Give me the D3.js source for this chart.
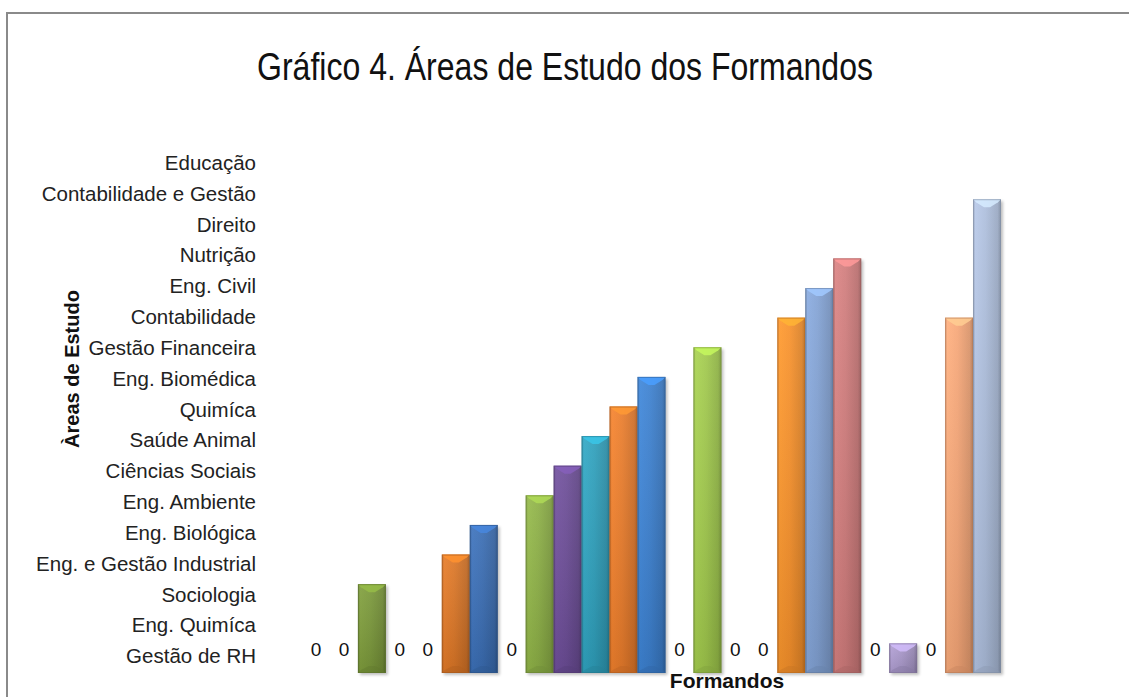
<!DOCTYPE html>
<html lang="pt">
<head>
<meta charset="utf-8">
<script src="https://cdn.jsdelivr.net/npm/d3@7/dist/d3.min.js"></script>
<style>
  html, body { margin: 0; padding: 0; background: #fff; }
  svg { display: block; }
</style>
</head>
<body>
<svg id="chart" width="1129" height="697"></svg>
<script>
// Áreas de estudo (rótulos do eixo vertical, de baixo para cima)
const areas = [
  "Gestão de RH", "Eng. Quimíca", "Sociologia", "Eng. e Gestão Industrial",
  "Eng. Biológica", "Eng. Ambiente", "Ciências Sociais", "Saúde Animal",
  "Quimíca", "Eng. Biomédica", "Gestão Financeira", "Contabilidade",
  "Eng. Civil", "Nutrição", "Direito", "Contabilidade e Gestão", "Educação"
];

// Um valor por formando: índice da área de estudo
const formandos = d3.range(1, 26);
const areaIndex = [0, 0, 3, 0, 0, 4, 5, 0, 6, 7, 8, 9, 10, 0, 11, 0, 0, 12, 13, 14, 0, 1, 0, 12, 16];

// Cor de cada série
const seriesColors = [
  "#4f81bd", "#c0504d", "#7a983a", "#7060a0", "#4bacc6", "#db7626",
  "#3a6db3", "#a54744", "#8db046", "#6c4d97", "#2e9fbb", "#e97c2b",
  "#3c80cf", "#d06060", "#a0c84c", "#9f88c4", "#6fc0d6", "#f7912b",
  "#82a2d4", "#d07c7c", "#b8d08a", "#a998ca", "#8fd0e0", "#f6a677",
  "#adbedc"
];

const titleText = "Gráfico 4. Áreas de Estudo dos Formandos";
const yTitle = "Àreas de Estudo";
const xTitle = "Formandos";

const svg = d3.select("#chart");
const defs = svg.append("defs");

// moldura do gráfico
svg.append("rect")
  .attr("x", 7).attr("y", 13)
  .attr("width", 1140).attr("height", 700)
  .attr("fill", "#fff")
  .attr("stroke", "#8a8a8a").attr("stroke-width", 2);

// escalas
const x = d3.scaleBand().domain(formandos).range([302, 1001]).padding(0);
const y = d3.scaleLinear().domain([0, 18]).range([673, 140]);
const yCat = d3.scaleBand().domain(areas).range([672, 148]).padding(0);

// título (fonte estreita)
svg.append("text")
  .attr("x", 565).attr("y", 80)
  .attr("text-anchor", "middle")
  .attr("font-family", "'Liberation Sans', Arial, sans-serif")
  .attr("font-size", 38)
  .attr("fill", "#111")
  .attr("textLength", 616)
  .attr("lengthAdjust", "spacingAndGlyphs")
  .text(titleText);

// eixo vertical com as áreas
const yAxis = svg.append("g")
  .attr("transform", "translate(262,0)")
  .call(d3.axisLeft(yCat).tickSize(0).tickPadding(6));
yAxis.select(".domain").remove();
yAxis.selectAll("text")
  .attr("font-family", "'Liberation Sans', Arial, sans-serif")
  .attr("font-size", 20.5)
  .attr("fill", "#222");

// título do eixo vertical
svg.append("text")
  .attr("transform", "translate(79,369) rotate(-90)")
  .attr("text-anchor", "middle")
  .attr("font-family", "'Liberation Sans', Arial, sans-serif")
  .attr("font-weight", "bold")
  .attr("font-size", 20)
  .attr("fill", "#111")
  .text(yTitle);

// título do eixo horizontal
svg.append("text")
  .attr("x", 727).attr("y", 688)
  .attr("text-anchor", "middle")
  .attr("font-family", "'Liberation Sans', Arial, sans-serif")
  .attr("font-weight", "bold")
  .attr("font-size", 21)
  .attr("fill", "#111")
  .text(xTitle);

// sombra das colunas
const shadow = defs.append("filter").attr("id", "barShadow")
  .attr("x", "-30%").attr("y", "-10%").attr("width", "160%").attr("height", "130%");
shadow.append("feGaussianBlur").attr("stdDeviation", 1.6);

const data = formandos.map((f, i) => ({ f, v: areaIndex[i], c: seriesColors[i], i }));

// gradientes por série
data.forEach(d => {
  const base = d3.color(d.c);
  const g = defs.append("linearGradient").attr("id", "grad" + d.i)
    .attr("x1", "0%").attr("x2", "100%").attr("y1", "0%").attr("y2", "0%");
  g.append("stop").attr("offset", "0%").attr("stop-color", base.darker(0.5));
  g.append("stop").attr("offset", "8%").attr("stop-color", base.brighter(0.15));
  g.append("stop").attr("offset", "45%").attr("stop-color", base);
  g.append("stop").attr("offset", "88%").attr("stop-color", base.darker(0.35));
  g.append("stop").attr("offset", "100%").attr("stop-color", base.darker(0.9));
  const gv = defs.append("linearGradient").attr("id", "vgrad" + d.i)
    .attr("x1", "0%").attr("x2", "0%").attr("y1", "0%").attr("y2", "100%");
  gv.append("stop").attr("offset", "0%").attr("stop-color", "#fff").attr("stop-opacity", 0.08);
  gv.append("stop").attr("offset", "100%").attr("stop-color", "#000").attr("stop-opacity", 0.1);
});

const bars = data.filter(d => d.v > 0);
const gBars = svg.append("g");

const bar = gBars.selectAll("g.bar").data(bars).join("g").attr("class", "bar");

bar.append("rect")
  .attr("x", d => x(d.f) + 2).attr("y", d => y(d.v) + 2)
  .attr("width", x.bandwidth()).attr("height", d => y(0) - y(d.v))
  .attr("fill", "#000").attr("opacity", 0.25)
  .attr("filter", "url(#barShadow)");

bar.append("rect")
  .attr("x", d => x(d.f)).attr("y", d => y(d.v))
  .attr("width", x.bandwidth()).attr("height", d => y(0) - y(d.v))
  .attr("fill", d => `url(#grad${d.i})`);

bar.append("rect")
  .attr("x", d => x(d.f)).attr("y", d => y(d.v))
  .attr("width", x.bandwidth()).attr("height", d => y(0) - y(d.v))
  .attr("fill", d => `url(#vgrad${d.i})`);

// bisel superior
bar.append("polygon")
  .attr("points", d => {
    const x0 = x(d.f), x1 = x0 + x.bandwidth(), xc = (x0 + x1) / 2, t = y(d.v);
    return [[x0, t], [x1, t], [x1 - 3, t + 3], [xc + 3, t + 8], [xc - 3, t + 8], [x0 + 3, t + 3]].join(" ");
  })
  .attr("fill", d => d3.color(d.c).brighter(0.6))
  .attr("opacity", 0.85);

// bisel inferior
bar.append("polygon")
  .attr("points", d => {
    const x0 = x(d.f), x1 = x0 + x.bandwidth(), xc = (x0 + x1) / 2, b = y(0);
    return [[x0, b], [x1, b], [x1 - 3, b - 3], [xc + 3, b - 7], [xc - 3, b - 7], [x0 + 3, b - 3]].join(" ");
  })
  .attr("fill", d => d3.color(d.c).darker(0.6))
  .attr("opacity", 0.45);

// contorno
bar.append("rect")
  .attr("x", d => x(d.f) + 0.5).attr("y", d => y(d.v) + 0.5)
  .attr("width", x.bandwidth() - 1).attr("height", d => y(0) - y(d.v) - 1)
  .attr("fill", "none")
  .attr("stroke", d => d3.color(d.c).darker(0.8))
  .attr("stroke-opacity", 0.6)
  .attr("stroke-width", 1);

// rótulos dos valores nulos
svg.append("g").selectAll("text")
  .data(data.filter(d => d.v === 0))
  .join("text")
  .attr("x", d => x(d.f) + x.bandwidth() / 2)
  .attr("y", d => y(d.v) - 17)
  .attr("text-anchor", "middle")
  .attr("font-family", "'Liberation Sans', Arial, sans-serif")
  .attr("font-size", 19)
  .attr("fill", "#111")
  .text(d => d.v);
</script>
</body>
</html>
